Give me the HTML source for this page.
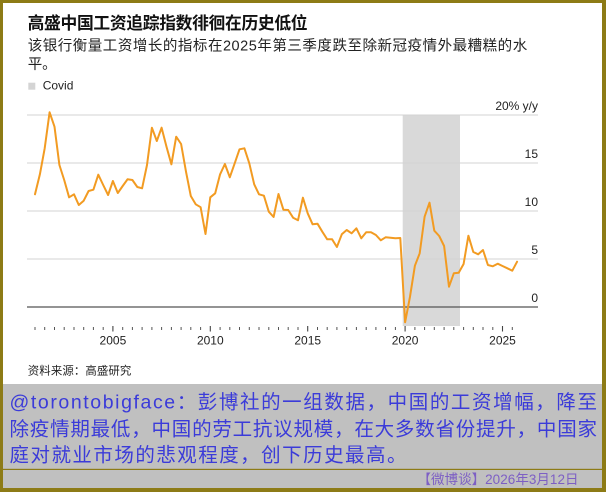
<!DOCTYPE html>
<html>
<head>
<meta charset="utf-8">
<style>
html,body{margin:0;padding:0;width:606px;height:492px;overflow:hidden;background:#8d7b16;}
svg{display:block;}
</style>
</head>
<body>
<svg width="606" height="492" viewBox="0 0 606 492" xmlns="http://www.w3.org/2000/svg">
  <rect x="0" y="0" width="606" height="492" fill="#8d7b16"/>
  <rect x="3" y="3" width="599" height="485" fill="#ffffff"/>

  <!-- Title -->
  <text x="27.6" y="29" font-family="'Liberation Sans','Noto Sans CJK SC',sans-serif" font-size="16.8" font-weight="bold" fill="#111" textLength="280" lengthAdjust="spacing">高盛中国工资追踪指数徘徊在历史低位</text>
  <text x="27.7" y="50.5" font-family="'Liberation Sans','Noto Sans CJK SC',sans-serif" font-size="14.5" fill="#222" textLength="499.5" lengthAdjust="spacing">该银行衡量工资增长的指标在2025年第三季度跌至除新冠疫情外最糟糕的水</text>
  <text x="27.7" y="68.8" font-family="'Liberation Sans','Noto Sans CJK SC',sans-serif" font-size="14.5" fill="#222">平。</text>

  <!-- Legend -->
  <rect x="28.3" y="82.7" width="7" height="7" fill="#d4d4d4"/>
  <text x="42.7" y="89.6" font-family="'Liberation Sans',sans-serif" font-size="12" fill="#222">Covid</text>

  <!-- Covid shade -->
  <rect x="402.7" y="115" width="57.3" height="211" fill="#d9d9d9"/>

  <!-- Gridlines -->
  <g stroke="#d3d3d3" stroke-width="1">
    <line x1="27" y1="115" x2="538" y2="115"/>
    <line x1="27" y1="163" x2="538" y2="163"/>
    <line x1="27" y1="211" x2="538" y2="211"/>
    <line x1="27" y1="259" x2="538" y2="259"/>
  </g>
  <line x1="27" y1="307" x2="538" y2="307" stroke="#555" stroke-width="1.3"/>

  <!-- Y labels -->
  <g font-family="'Liberation Sans',sans-serif" font-size="12" fill="#222" text-anchor="end">
    <text x="538" y="110">20% y/y</text>
    <text x="538" y="158">15</text>
    <text x="538" y="206">10</text>
    <text x="538" y="254">5</text>
    <text x="538" y="302">0</text>
  </g>

  <!-- Ticks -->
  <path stroke="#555" stroke-width="1" fill="none" d="M35 327v3M44.7 327v3M54.5 327v3M64.2 327v3M74 327v3M83.7 327v3M93.4 327v3M103.2 327v3M122.7 327v3M132.4 327v3M142.1 327v3M151.9 327v3M161.6 327v3M171.4 327v3M181.1 327v3M190.8 327v3M200.6 327v3M220.1 327v3M229.8 327v3M239.5 327v3M249.3 327v3M259 327v3M268.8 327v3M278.5 327v3M288.2 327v3M298 327v3M317.5 327v3M327.2 327v3M336.9 327v3M346.7 327v3M356.4 327v3M366.2 327v3M375.9 327v3M385.6 327v3M395.4 327v3M414.9 327v3M424.6 327v3M434.3 327v3M444.1 327v3M453.8 327v3M463.6 327v3M473.3 327v3M483 327v3M492.8 327v3M512.3 327v3"/>
  <path stroke="#444" stroke-width="1.1" fill="none" d="M112.9 326v5.5M210.3 326v5.5M307.7 326v5.5M405.1 326v5.5M502.5 326v5.5"/>

  <!-- X labels -->
  <g font-family="'Liberation Sans',sans-serif" font-size="12" fill="#222" text-anchor="middle">
    <text x="112.9" y="344.3">2005</text>
    <text x="210.3" y="344.3">2010</text>
    <text x="307.7" y="344.3">2015</text>
    <text x="405.1" y="344.3">2020</text>
    <text x="502.5" y="344.3">2025</text>
  </g>

  <!-- Data line -->
  <polyline fill="none" stroke="#f29b22" stroke-width="2" stroke-linejoin="round" stroke-linecap="round" points="
35.0,194.3 39.9,174.3 44.7,148.3 49.6,112.3 54.5,126.7 59.4,165 64.2,180 69.1,197.3 74.0,194.3 78.8,205
83.7,200.7 88.6,191 93.4,189.7 98.3,174.7 103.2,185 108.1,195 112.9,181 117.8,193 122.7,186 127.5,179.3
132.4,180 137.3,187 142.1,188.3 147.0,165 151.9,127.7 156.8,141 161.6,127.7 166.5,146.7 171.4,164.3 176.2,136.7
181.1,144 186.0,171.7 190.8,196 195.7,204.3 200.6,207.2 205.5,234 210.3,197.3 215.2,193.3 220.1,174.3 224.9,164
229.8,177.3 234.7,163.3 239.5,149.3 244.4,148.3 249.3,163.3 254.2,184.3 259.0,194.3 263.9,195.7 268.8,211.7 273.6,217
278.5,194 283.4,209.7 288.2,210 293.1,217.7 298.0,220.3 302.9,197.7 307.7,213.3 312.6,224.3 317.5,223.7 322.3,231.7
327.2,239.3 332.1,239.3 336.9,247 341.8,234.3 346.7,230 351.6,233.3 356.4,228.3 361.3,238.3 366.2,232.3 371.0,232.3
375.9,235 380.8,240.3 385.6,237.3 390.5,237.7 395.4,238.3 400.3,238 405.1,322.3 410.0,296.7 414.9,265.7 419.7,253.3
424.6,216.7 429.5,202.7 434.3,230.7 439.2,236 444.1,246 449.0,286.7 453.8,273.3 458.7,272.7 463.6,264 468.4,235.7
473.3,252 478.2,254.3 483.0,250 487.9,265 492.8,266.3 497.7,263.7 502.5,266 507.4,268.3 512.3,270.7 517.1,261.7"/>

  <!-- Source -->
  <text x="27.8" y="374.3" font-family="'Liberation Sans','Noto Sans CJK SC',sans-serif" font-size="11.4" fill="#222" textLength="103.5" lengthAdjust="spacing">资料来源：高盛研究</text>

  <!-- Bottom gray panel -->
  <rect x="3" y="384" width="599" height="104" fill="#c0c0c0"/>
  <rect x="3" y="468.8" width="599" height="1.2" fill="#8d7b16"/>

  <g font-family="'Liberation Sans','WenQuanYi Zen Hei','Noto Sans CJK SC',sans-serif" font-size="19.5" fill="#3b3bd9">
    <text x="9.5" y="408.3" textLength="587.5" lengthAdjust="spacing">@torontobigface：彭博社的一组数据，中国的工资增幅，降至</text>
    <text x="9.5" y="435.6" textLength="587.5" lengthAdjust="spacing">除疫情期最低，中国的劳工抗议规模，在大多数省份提升，中国家</text>
    <text x="9.5" y="461.6" textLength="397" lengthAdjust="spacing">庭对就业市场的悲观程度，创下历史最高。</text>
  </g>

  <text x="417.5" y="484.1" font-family="'Liberation Sans','Noto Sans CJK SC',sans-serif" font-size="13.5" fill="#7d5fc4" textLength="161" lengthAdjust="spacing">【微博谈】2026年3月12日</text>
</svg>
</body>
</html>
